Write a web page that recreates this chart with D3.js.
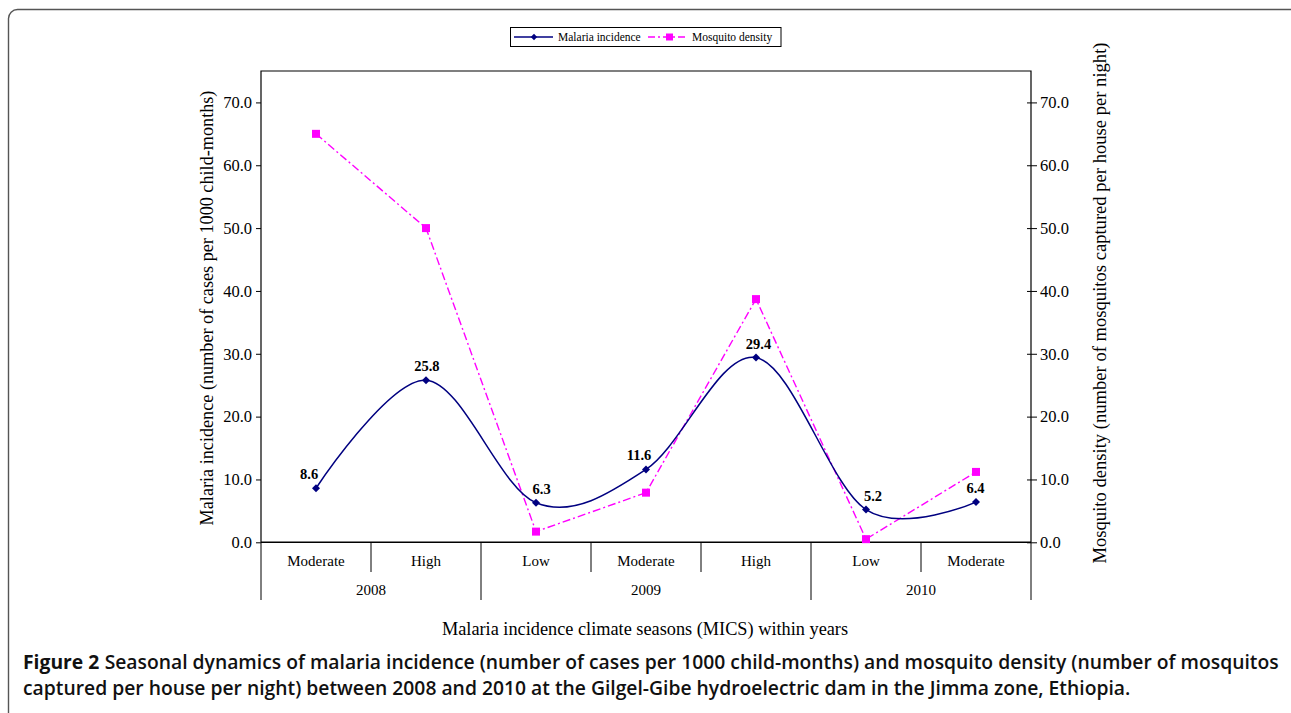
<!DOCTYPE html>
<html><head><meta charset="utf-8">
<script src="https://cdn.jsdelivr.net/npm/d3@7"></script>
<style>
html,body{margin:0;padding:0;background:#fff;}
svg{display:block;}
</style></head>
<body>
<svg id="chart" width="1291" height="713"></svg>
<script>
// ---- data ----
const seasons = ["Moderate","High","Low","Moderate","High","Low","Moderate"];
const years = ["2008","2009","2010"];
const seasonsPerYear = [2,3,2];
const malaria = [8.6,25.8,6.3,11.6,29.4,5.2,6.4];
const mosquito = [65.0,50.0,1.7,7.9,38.7,0.5,11.2];
const yTicks = [0,10,20,30,40,50,60,70];
const seriesNames = ["Malaria incidence","Mosquito density"];

const svg = d3.select("#chart");
const serif = "'Liberation Serif','Times New Roman',serif";
const NAVY = "#000080", MAG = "#FF00FF";

// outer figure frame
svg.append("rect").attr("x",8.5).attr("y",9.5).attr("width",1300).attr("height",740)
  .attr("rx",9).attr("fill","none").attr("stroke","#555").attr("stroke-width",1.4);

const L = 261, R = 1031, T = 71, B = 542.3;
const x = d3.scaleBand().domain(d3.range(seasons.length)).range([L,R]);
const cx = i => x(i) + x.bandwidth()/2;
const yL = d3.scaleLinear().domain([0,75]).range([B,T]);
const yR = d3.scaleLinear().domain([0,75]).range([B,T]);

// plot frame (top, left, right)
svg.append("path").attr("d",`M${L},${B}V${T}H${R}V${B}`).attr("fill","none")
  .attr("stroke","#000").attr("stroke-width",1.2);

// left axis
const gL = svg.append("g").attr("transform",`translate(${L},0)`)
  .call(d3.axisLeft(yL).tickValues(yTicks).tickFormat(d3.format(".1f")).tickSize(5).tickPadding(4));
gL.select(".domain").remove();
gL.selectAll("text").attr("font-family",serif).attr("font-size",16.5).attr("fill","#000");
gL.selectAll("line").attr("stroke","#000");

// right axis (ticks cross)
const gR = svg.append("g").attr("transform",`translate(${R},0)`)
  .call(d3.axisRight(yR).tickValues(yTicks).tickFormat(d3.format(".1f")).tickSize(6).tickPadding(3));
gR.select(".domain").remove();
gR.selectAll("line").attr("x1",-4).attr("stroke","#000");
gR.selectAll("text").attr("font-family",serif).attr("font-size",16.5).attr("fill","#000");

// category axis
svg.append("line").attr("x1",L).attr("x2",R).attr("y1",B).attr("y2",B)
  .attr("stroke","#000").attr("stroke-width",1.4);
const yearStarts = [0];
seasonsPerYear.forEach((n,i)=>yearStarts.push(yearStarts[i]+n));
const boundaries = d3.range(seasons.length+1);
svg.append("g").selectAll("line").data(boundaries).join("line")
  .attr("x1",i => i<seasons.length ? x(i) : R).attr("x2",i => i<seasons.length ? x(i) : R)
  .attr("y1",B).attr("y2",i => yearStarts.includes(i) ? 600 : 572)
  .attr("stroke","#000").attr("stroke-width",1);
svg.append("g").selectAll("text").data(seasons).join("text")
  .attr("x",(d,i)=>cx(i)).attr("y",566).attr("text-anchor","middle")
  .attr("font-family",serif).attr("font-size",15).text(d=>d);
svg.append("g").selectAll("text").data(years).join("text")
  .attr("x",(d,i)=>{ const a = x(yearStarts[i]); const e = yearStarts[i+1]<seasons.length ? x(yearStarts[i+1]) : R; return (a+e)/2; })
  .attr("y",595).attr("text-anchor","middle")
  .attr("font-family",serif).attr("font-size",15).text(d=>d);

// axis titles
svg.append("text").attr("x",645).attr("y",635).attr("text-anchor","middle")
  .attr("font-family",serif).attr("font-size",18.3).text("Malaria incidence climate seasons (MICS) within years");
svg.append("text").attr("transform",`translate(213,308) rotate(-90)`).attr("text-anchor","middle")
  .attr("font-family",serif).attr("font-size",18.2).text("Malaria incidence (number of cases per 1000 child-months)");
svg.append("text").attr("transform",`translate(1106,303) rotate(-90)`).attr("text-anchor","middle")
  .attr("font-family",serif).attr("font-size",18.6).text("Mosquito density (number of mosquitos captured per house per night)");

// mosquito series
const lineM = d3.line().x((d,i)=>cx(i)).y(d=>yR(d));
svg.append("path").attr("d",lineM(mosquito)).attr("fill","none").attr("stroke",MAG)
  .attr("stroke-width",1.4).attr("stroke-dasharray","8,3,2,3");
svg.append("g").selectAll("rect").data(mosquito).join("rect")
  .attr("x",(d,i)=>cx(i)-4).attr("y",d=>yR(d)-4).attr("width",8).attr("height",8).attr("fill",MAG);

// malaria series (smoothed)
const lineI = d3.line().x((d,i)=>cx(i)).y(d=>yL(d)).curve(d3.curveCardinal.tension(0));
svg.append("path").attr("d",lineI(malaria)).attr("fill","none").attr("stroke",NAVY).attr("stroke-width",1.5);
const diamond = d3.symbol().type(d3.symbolSquare).size(32);
svg.append("g").selectAll("path").data(malaria).join("path")
  .attr("d",diamond()).attr("transform",(d,i)=>`translate(${cx(i)},${yL(d)}) rotate(45)`).attr("fill",NAVY);

// data labels
svg.append("g").selectAll("text").data(malaria).join("text")
  .attr("x",(d,i)=>{
    const pd = i>0 ? malaria[i-1]-d : 0, nd = i<malaria.length-1 ? malaria[i+1]-d : 0;
    return cx(i) + Math.max(-7,Math.min(7,0.4*(pd-nd)));
  })
  .attr("y",d=>yL(d)-9).attr("text-anchor","middle")
  .attr("font-family",serif).attr("font-weight","bold").attr("font-size",14.5).text(d=>d.toFixed(1));

// legend
const lg = svg.append("g");
lg.append("rect").attr("x",510.5).attr("y",27.5).attr("width",270.5).attr("height",19)
  .attr("fill","#fff").attr("stroke","#000").attr("stroke-width",1);
const ly = 37;
const items = lg.selectAll("g").data(seriesNames).join("g")
  .attr("transform",(d,i)=>`translate(${i===0?514:648},${ly})`);
items.append("line").attr("x1",0).attr("x2",39).attr("y1",0).attr("y2",0)
  .attr("stroke",(d,i)=>i===0?NAVY:MAG).attr("stroke-width",1.4)
  .attr("stroke-dasharray",(d,i)=>i===0?null:"7,3,2,3");
items.each(function(d,i){
  const g = d3.select(this);
  if(i===0) g.append("path").attr("d",d3.symbol().type(d3.symbolSquare).size(20)()).attr("transform","translate(20,0) rotate(45)").attr("fill",NAVY);
  else g.append("rect").attr("x",18).attr("y",-3.5).attr("width",7).attr("height",7).attr("fill",MAG);
});
items.append("text").attr("x",44).attr("y",4).attr("font-family",serif).attr("font-size",11.5).text(d=>d);

// caption (two lines; bold lead-in as its own text element)
const capFont = "'Open Sans','Noto Sans',sans-serif";
const capRest1 = "Seasonal dynamics of malaria incidence (number of cases per 1000 child-months) and mosquito density (number of mosquitos";
const capLine2 = "captured per house per night) between 2008 and 2010 at the Gilgel-Gibe hydroelectric dam in the Jimma zone, Ethiopia.";
const lead = svg.append("text").attr("x",23).attr("y",669).attr("font-family",capFont).attr("font-size",18)
  .attr("font-weight",700).attr("fill","#111").text("Figure 2");
const rest1 = svg.append("text").attr("y",669).attr("font-family",capFont).attr("font-size",18)
  .attr("font-weight",600).attr("fill","#111").text(capRest1);
const cap2 = svg.append("text").attr("x",23).attr("y",695).attr("font-family",capFont).attr("font-size",18)
  .attr("font-weight",600).attr("fill","#111").text(capLine2);
const gap0 = 5;
const total0 = lead.node().getComputedTextLength() + gap0 + rest1.node().getComputedTextLength();
const k = 1256 / total0;
const fs = 18 * k;
lead.attr("font-size",fs); rest1.attr("font-size",fs); cap2.attr("font-size",fs);
rest1.attr("x", 23 + lead.node().getComputedTextLength() + gap0*k);
</script>
</body></html>
